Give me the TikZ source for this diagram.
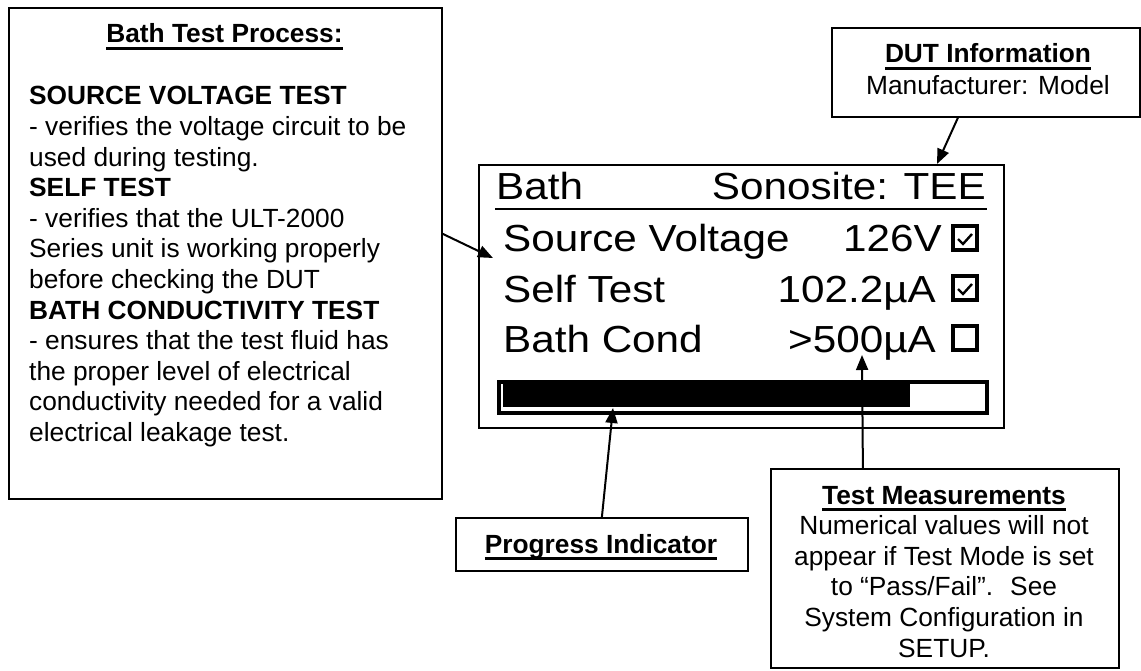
\documentclass[tikz,border=0pt]{standalone}
\usepackage{fontspec}
\setmainfont{Liberation Sans}
\newfontfamily\lcdfont[FakeStretch=1.12]{Liberation Sans}
\usetikzlibrary{arrows.meta}
\newcommand{\notesize}{\fontsize{26.3}{30.6}\selectfont}
\newcommand{\ultext}[1]{\setbox0=\hbox{#1}\rlap{\rule[-7pt]{\wd0}{2.6pt}}\box0}
\tikzset{
  callout/.style={draw, line width=1.8pt, inner sep=0pt, anchor=north west},
  note/.style={font=\notesize, inner sep=0pt},
  lcdtext/.style={font=\lcdfont\fontsize{37.7}{40}\selectfont, inner sep=0pt},
  pointer/.style={line width=2pt, -{Triangle[length=15pt,width=12pt]}},
  tickbox/.style={line width=3.5pt}
}
\begin{document}
\begin{tikzpicture}[x=1pt,y=-1pt]
    \useasboundingbox (0,0) rectangle (1141,671);
    \fill[white] (0,0) rectangle (1141,671);
    % callout boxes
    \node[callout, minimum width=433pt, minimum height=491pt] (process) at (8,7) {};
    \node[callout, minimum width=308pt, minimum height=89pt] (dut) at (831,27) {};
    \node[callout, minimum width=292pt, minimum height=53pt] (progress) at (455,517) {};
    \node[callout, minimum width=348pt, minimum height=199pt] (measure) at (770,468) {};
    % texts of the callouts (base = last line)
    \node[note, anchor=base] at (224.5,43) {\ultext{\textbf{Bath Test Process:}}};
    \node[note, align=left, anchor=base west] (steps) at (29,441.5) {\textbf{SOURCE VOLTAGE TEST}\\- verifies the voltage circuit to be\\used during testing.\\\textbf{SELF TEST}\\- verifies that the ULT-2000\\Series unit is working properly\\before checking the DUT\\\textbf{BATH CONDUCTIVITY TEST}\\- ensures that the test fluid has\\the proper level of electrical\\conductivity needed for a valid\\electrical leakage test.};
    \node[note, align=center, anchor=base] (dutinfo) at (988,95) {\ultext{\textbf{DUT Information}}\\[1.4pt]Manufacturer: Model};
    \node[note, anchor=base] at (601,553) {\ultext{\textbf{Progress Indicator}}};
    \node[note, align=center, anchor=base] (values) at (944,657) {\ultext{\textbf{Test Measurements}}\\Numerical values will not\\appear if Test Mode is set\\to “Pass/Fail”.~ See\\System Configuration in\\SETUP.};
    % the screen
    \node[callout, line width=2pt, minimum width=525pt, minimum height=263pt] (lcd) at (478,164) {};
    \node[lcdtext, anchor=base west] at (496,200) {Bath};
    \node[lcdtext, anchor=base east] at (986,200) {Sonosite: TEE};
    \draw[line width=2.6pt] (495,209) -- (987,209);
    \node[lcdtext, anchor=base west] at (503,252) {Source Voltage};
    \node[lcdtext, anchor=base east] at (942,252) {126V};
    \node[lcdtext, anchor=base west] at (503,302) {Self Test};
    \node[lcdtext, anchor=base east] at (936,302) {102.2µA};
    \node[lcdtext, anchor=base west] at (503,352) {Bath Cond};
    \node[lcdtext, anchor=base east] at (936,352) {>500µA};
    \foreach \y in {226,276,326}
        \draw[tickbox] (953,\y) rectangle ++(24,24);
    \foreach \y in {226,276}
        \draw[line width=2.4pt] (958,\y+13) -- (963,\y+18) -- (972,\y+8);
    \node[draw, line width=4pt, inner sep=0pt, anchor=north west, minimum width=488pt, minimum height=31pt] (bar) at (497,380) {};
    \fill (503,384) rectangle (910,407);
    % pointers
    \coordinate (voltrow) at (493,258);
    \coordinate (model) at (937,164);
    \coordinate (barfill) at (613,408);
    \coordinate (reading) at (862,355);
    \draw[pointer] ([yshift=19.5pt]process.east) -- (voltrow);
    \draw[pointer] ([xshift=-28pt]dut.south) -- (model);
    \draw[pointer] (progress.north) -- (barfill);
    \draw[pointer] ([xshift=-82pt]measure.north) -- (reading);
\end{tikzpicture}
\end{document}
